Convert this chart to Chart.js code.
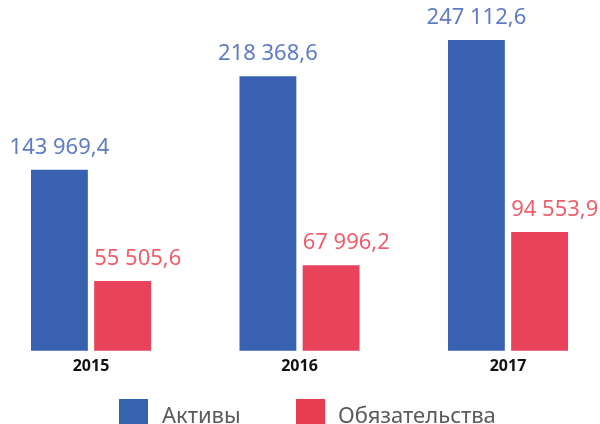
<!DOCTYPE html>
<html>
<head>
<meta charset="utf-8">
<script src="https://cdn.jsdelivr.net/npm/chart.js@4"></script>
<style>
  html, body { margin: 0; padding: 0; background: #fff; overflow: hidden; }
  #wrap { position: relative; width: 600px; height: 424px; }
  #legend { position: absolute; left: 0; top: 0; width: 600px; height: 424px; pointer-events: none;
            font-family: "Noto Sans", sans-serif; font-size: 22px; color: #5a5a5a; }
  #legend .box { position: absolute; width: 29px; height: 29px; top: 399px; }
  #legend .txt { position: absolute; top: 399px; line-height: 30px; white-space: nowrap; }
</style>
</head>
<body>
<div id="wrap">
  <canvas id="chart" width="600" height="424"></canvas>
  <div id="legend"></div>
</div>
<script>
// years on the x axis
const years = ["2015", "2016", "2017"];
// series names (legend)
const seriesNames = ["Активы", "Обязательства"];
// values, mln rub
const assets = [143969.4, 218368.6, 247112.6];
const liabilities = [55505.6, 67996.2, 94553.9];

const BLUE = '#3862b0';
const RED = '#e8435a';
const BLUE_TXT = '#5d7cc4';
const RED_TXT = '#ef5f6b';

function fmt(v) {
  let parts = v.toFixed(1).split('.');
  let intPart = parts[0].replace(/\B(?=(\d{3})+(?!\d))/g, ' ');
  return intPart + ',' + parts[1];
}

// white background
const bgPlugin = {
  id: 'bg',
  beforeDraw(chart) {
    const ctx = chart.ctx;
    ctx.save();
    ctx.fillStyle = '#fff';
    ctx.fillRect(0, 0, chart.width, chart.height);
    ctx.restore();
  }
};

// value labels over bars: blue ones centred, red ones start at bar's left edge
const valueLabels = {
  id: 'valueLabels',
  afterDatasetsDraw(chart) {
    const ctx = chart.ctx;
    ctx.save();
    ctx.font = '22px "Noto Sans"';
    ctx.textBaseline = 'alphabetic';
    chart.data.datasets.forEach((ds, i) => {
      const meta = chart.getDatasetMeta(i);
      meta.data.forEach((bar, j) => {
        const txt = fmt(ds.data[j]);
        if (i === 0) {
          ctx.fillStyle = BLUE_TXT;
          ctx.textAlign = 'center';
          ctx.fillText(txt, bar.x, bar.y - 16);
        } else {
          ctx.fillStyle = RED_TXT;
          ctx.textAlign = 'left';
          ctx.fillText(txt, bar.x - bar.width / 2, bar.y - 16);
        }
      });
    });
    ctx.restore();
  }
};

// html legend under the chart, built from the datasets
const htmlLegend = {
  id: 'htmlLegend',
  afterUpdate(chart) {
    const box = document.getElementById('legend');
    box.innerHTML = '';
    const boxX = [119, 296];
    const txtX = [162, 338];
    chart.data.datasets.forEach((ds, i) => {
      const sq = document.createElement('div');
      sq.className = 'box';
      sq.style.left = boxX[i] + 'px';
      sq.style.background = i === 0 ? '#3563ae' : '#e83c50';
      const t = document.createElement('div');
      t.className = 'txt';
      t.style.left = txtX[i] + 'px';
      t.textContent = ds.label;
      box.appendChild(sq);
      box.appendChild(t);
    });
  }
};

const data = {
  labels: years,
  datasets: [
    {
      label: seriesNames[0],
      data: assets,
      backgroundColor: BLUE,
      borderWidth: 0,
      clip: false
    },
    {
      label: seriesNames[1],
      data: liabilities,
      backgroundColor: RED,
      borderWidth: 0,
      clip: false
    }
  ]
};

const ctx = document.getElementById('chart').getContext('2d');
const chart = new Chart(ctx, {
  type: 'bar',
  data: data,
  options: {
    responsive: false,
    animation: false,
    devicePixelRatio: 1,
    categoryPercentage: 0.606,
    barPercentage: 0.9,
    layout: { padding: { left: 91, right: 92, top: 0, bottom: 42 } },
    scales: {
      x: {
        offset: false,
        grid: { display: false, drawTicks: false },
        border: { display: false },
        ticks: {
          color: '#111',
          font: { family: '"Noto Sans"', size: 16, weight: 'bold' },
          padding: 6
        }
      },
      y: {
        display: false,
        min: 0,
        max: 279000
      }
    },
    plugins: {
      legend: { display: false },
      tooltip: { enabled: false }
    }
  },
  plugins: [bgPlugin, valueLabels, htmlLegend]
});
</script>
</body>
</html>
